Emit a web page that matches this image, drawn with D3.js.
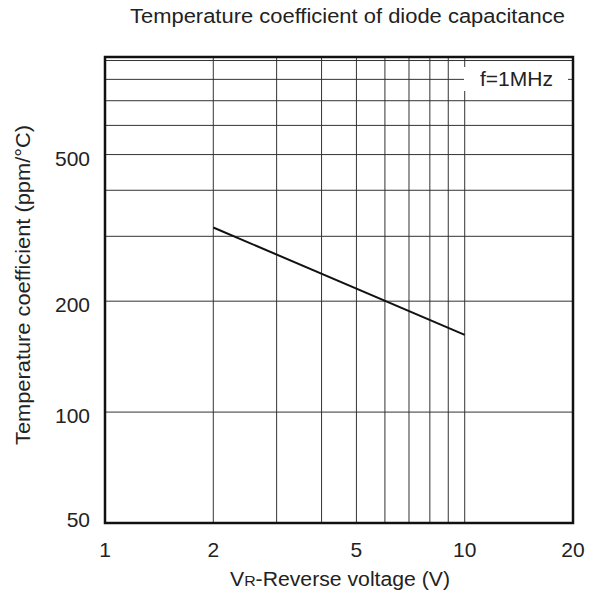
<!DOCTYPE html>
<html>
<head>
<meta charset="utf-8">
<script src="https://cdn.jsdelivr.net/npm/d3@7"></script>
<style>
  body { margin: 0; background: #fff; }
  text { font-family: "Liberation Sans", Arial, sans-serif; fill: #222; }
</style>
</head>
<body>
<div id="chart"></div>
<script>
// values
const xTicks = [1, 2, 5, 10, 20];
const yTicks = [50, 100, 200, 500];
const xGrid = [2, 3, 4, 5, 6, 7, 8, 9, 10];
const yGrid = [100, 200, 300, 400, 500, 600, 700, 800, 900];
const voltage = [2, 10];
const tempCoef = [317, 162];

const width = 597, height = 597;
const plotL = 105, plotR = 573, plotT = 57, plotB = 523;

const svg = d3.select("#chart").append("svg")
    .attr("width", width)
    .attr("height", height);

const x = d3.scaleLog().domain([1, 20]).range([plotL, plotR]);
const y = d3.scaleLog().domain([50, 920]).range([plotB, plotT]);

// grid
const grid = svg.append("g").attr("stroke", "#333").attr("stroke-width", 1);
grid.selectAll("line.v")
    .data(xGrid)
    .join("line")
    .attr("class", "v")
    .attr("x1", d => x(d)).attr("x2", d => x(d))
    .attr("y1", plotT).attr("y2", plotB);
grid.selectAll("line.h")
    .data(yGrid)
    .join("line")
    .attr("class", "h")
    .attr("x1", plotL).attr("x2", plotR)
    .attr("y1", d => y(d)).attr("y2", d => y(d));

// label box f=1MHz
svg.append("rect")
    .attr("x", 464).attr("y", 67)
    .attr("width", 104).attr("height", 24)
    .attr("fill", "#fff");
svg.append("text")
    .attr("x", 480).attr("y", 86)
    .attr("font-size", 20)
    .attr("textLength", 73)
    .attr("lengthAdjust", "spacingAndGlyphs")
    .text("f=1MHz");

// curve
const line = d3.line()
    .x((d, i) => x(voltage[i]))
    .y(d => y(d));
svg.append("path")
    .attr("d", line(tempCoef))
    .attr("fill", "none")
    .attr("stroke", "#111")
    .attr("stroke-width", 2);

// frame
svg.append("rect")
    .attr("x", plotL).attr("y", plotT)
    .attr("width", plotR - plotL).attr("height", plotB - plotT)
    .attr("fill", "none")
    .attr("stroke", "#111")
    .attr("stroke-width", 2.5);

// tick labels
svg.append("g").selectAll("text")
    .data(xTicks)
    .join("text")
    .attr("x", d => x(d))
    .attr("y", 557)
    .attr("text-anchor", "middle")
    .attr("font-size", 21)
    .text(d => d);

svg.append("g").selectAll("text")
    .data(yTicks)
    .join("text")
    .attr("x", 90)
    .attr("y", d => Math.min(y(d) + 11, plotB + 4))
    .attr("text-anchor", "end")
    .attr("font-size", 21)
    .text(d => d);

// titles
svg.append("text")
    .attr("x", 130).attr("y", 23)
    .attr("font-size", 20)
    .attr("textLength", 435)
    .attr("lengthAdjust", "spacingAndGlyphs")
    .text("Temperature coefficient of diode capacitance");

const xl = svg.append("text")
    .attr("x", 230).attr("y", 586)
    .attr("font-size", 20)
    .attr("textLength", 220)
    .attr("lengthAdjust", "spacingAndGlyphs");
xl.append("tspan").text("V");
xl.append("tspan").attr("font-size", 15).text("R");
xl.append("tspan").text("-Reverse voltage (V)");

svg.append("text")
    .attr("transform", "translate(30,445) rotate(-90)")
    .attr("font-size", 20)
    .attr("textLength", 320)
    .attr("lengthAdjust", "spacingAndGlyphs")
    .text("Temperature coefficient (ppm/°C)");
</script>
</body>
</html>
